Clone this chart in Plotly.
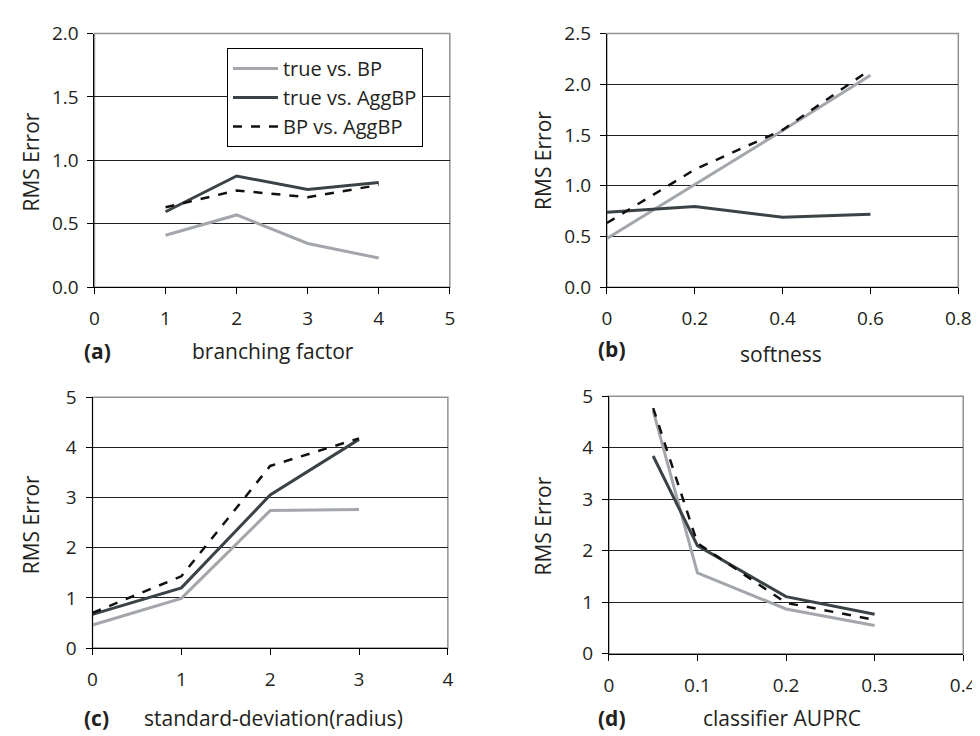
import plotly.graph_objects as go

# ---- data ----
series_names = ["true vs. BP", "true vs. AggBP", "BP vs. AggBP"]

a_x = [1, 2, 3, 4]
a_true_bp = [0.41, 0.57, 0.345, 0.23]
a_true_agg = [0.595, 0.877, 0.77, 0.825]
a_bp_agg = [0.63, 0.763, 0.71, 0.806]

b_x = [0, 0.2, 0.4, 0.6]
b_true_bp = [0.48, 1.016, 1.545, 2.09]
b_true_agg = [0.74, 0.795, 0.69, 0.72]
b_bp_agg = [0.633, 1.16, 1.55, 2.146]

c_x = [0, 1, 2, 3]
c_true_bp = [0.46, 0.99, 2.74, 2.76]
c_true_agg = [0.67, 1.2, 3.05, 4.16]
c_bp_agg = [0.70, 1.43, 3.63, 4.18]

d_x = [0.05, 0.1, 0.2, 0.3]
d_true_bp = [4.72, 1.57, 0.87, 0.55]
d_true_agg = [3.84, 2.10, 1.11, 0.77]
d_bp_agg = [4.77, 2.15, 0.99, 0.66]

x_titles = ["branching factor", "softness", "standard-deviation(radius)", "classifier AUPRC"]
panel_tags = ["(a)", "(b)", "(c)", "(d)"]
y_title = "RMS Error"

# ---- style ----
FONT = "Open Sans"
TXT = "#231F20"
TICK_SIZE = 19
TITLE_SIZE = 21
LEGEND_SIZE = 20
styles = [
    dict(color="#A3A7AB", width=3, dash="solid"),
    dict(color="#3B4346", width=3, dash="solid"),
    dict(color="#111111", width=2.5, dash="dash"),
]

W, H = 980, 736
def px_x(p):
    return p / W
def px_y(p):
    return 1 - p / H

# pixel boxes (left, top, right, bottom)
boxes = [(83, 13, 445, 276), (605, 13, 963, 276), (81, 390, 443, 650), (607, 389, 968, 656)]

panels = [
    (a_x, [a_true_bp, a_true_agg, a_bp_agg], [0, 5], 1, [0, 2.0], 0.5, ".1f", "d"),
    (b_x, [b_true_bp, b_true_agg, b_bp_agg], [0, 0.8], 0.2, [0, 2.5], 0.5, ".1f", "g"),
    (c_x, [c_true_bp, c_true_agg, c_bp_agg], [0, 4], 1, [0, 5], 1, "d", "d"),
    (d_x, [d_true_bp, d_true_agg, d_bp_agg], [0, 0.4], 0.1, [0, 5], 1, "d", "g"),
]

fig = go.Figure()
layout = dict(
    width=W, height=H, margin=dict(l=0, r=0, t=0, b=0),
    paper_bgcolor="white", plot_bgcolor="white",
    font=dict(family=FONT, size=TICK_SIZE, color=TXT),
    showlegend=True,
    legend=dict(x=px_x(218), y=px_y(28), xanchor="left", yanchor="top",
                bordercolor="black", borderwidth=1, bgcolor="white",
                font=dict(family=FONT, size=LEGEND_SIZE, color=TXT), tracegroupgap=0,
                itemwidth=45),
)
shapes = []
annotations = []

for i, (xs, ys_list, xr, dx, yr, dy, yfmt, xfmt) in enumerate(panels):
    k = "" if i == 0 else str(i + 1)
    xa, ya = "x" + k, "y" + k
    L, T, R, B = boxes[i]
    for j, ys in enumerate(ys_list):
        fig.add_trace(go.Scatter(
            x=xs, y=ys, mode="lines", name=series_names[j],
            line=styles[j], xaxis=xa, yaxis=ya, showlegend=(i == 0)))
    layout["xaxis" + k] = dict(
        domain=[px_x(L), px_x(R)], anchor=ya, range=xr, dtick=dx, tick0=0,
        showgrid=False, zeroline=False, showline=True, linecolor="black", linewidth=1,
        ticks="outside", ticklen=6, tickcolor="black", tickwidth=1,
        ticklabelstandoff=8, tickfont=dict(size=TICK_SIZE, color=TXT, family=FONT),
        tickformat=xfmt if xfmt == "d" else "",
    )
    layout["yaxis" + k] = dict(
        domain=[px_y(B), px_y(T)], anchor=xa, range=yr, dtick=dy, tick0=0,
        showgrid=True, gridcolor="#222222", gridwidth=1, zeroline=False,
        showline=True, linecolor="black", linewidth=1,
        ticks="outside", ticklen=6, tickcolor="black", tickwidth=1,
        ticklabelstandoff=5, tickformat=yfmt,
        tickfont=dict(size=TICK_SIZE, color=TXT, family=FONT),
    )
    # gray plot-area frame (top/right)
    shapes.append(dict(type="rect", xref=xa + " domain", yref=ya + " domain",
                       x0=0, x1=1, y0=0, y1=1, line=dict(color="#8E9295", width=1.5),
                       layer="below"))

# axis titles and panel tags (positions in pixels)
ytitle_pos = [(18, 146), (540, 145), (18, 522), (540, 524)]
xtitle_pos = [(265, 342), (782, 345), (265, 723), (783, 723)]
tag_pos = [(86, 342), (610, 340), (85, 723), (610, 723)]
for i in range(4):
    yx, yy = ytitle_pos[i]
    annotations.append(dict(text=y_title, x=px_x(yx), y=px_y(yy), xref="paper", yref="paper",
                            showarrow=False, textangle=-90, xanchor="center", yanchor="middle",
                            font=dict(size=TITLE_SIZE, color=TXT, family=FONT)))
    tx, ty = xtitle_pos[i]
    annotations.append(dict(text=x_titles[i], x=px_x(tx), y=px_y(ty), xref="paper", yref="paper",
                            showarrow=False, xanchor="center", yanchor="middle",
                            font=dict(size=TITLE_SIZE, color=TXT, family=FONT)))
    gx, gy = tag_pos[i]
    annotations.append(dict(text="<b>" + panel_tags[i] + "</b>", x=px_x(gx), y=px_y(gy),
                            xref="paper", yref="paper", showarrow=False,
                            xanchor="center", yanchor="middle",
                            font=dict(size=TITLE_SIZE, color=TXT, family=FONT)))

layout["shapes"] = shapes
layout["annotations"] = annotations
fig.update_layout(**layout)
fig.write_html("out.html")
